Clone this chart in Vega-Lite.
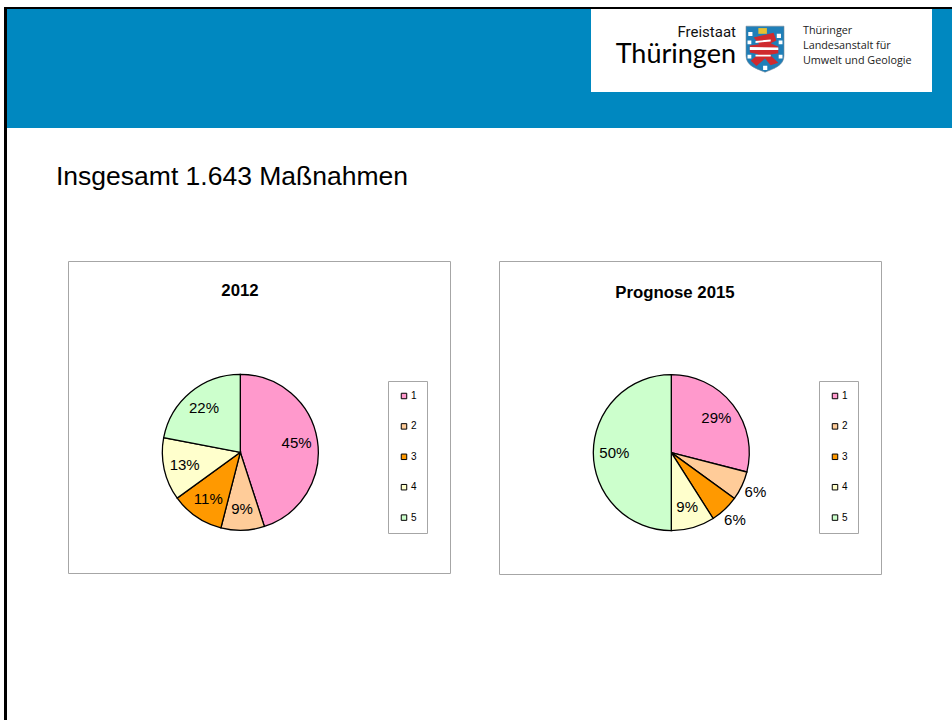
{
"$schema":"https://vega.github.io/schema/vega-lite/v6.json",
"padding":{"left":4,"top":7,"right":0,"bottom":0},
"background":"white",
"config":{"view":{"stroke":null},"font":"Liberation Sans","title":{"font":"Liberation Sans"},"concat":{"spacing":0}},
"datasets":{
 "a2012":[
  {"kategorie":1,"anteil":0.45,"lage":"innen"},
  {"kategorie":2,"anteil":0.09,"lage":"innen"},
  {"kategorie":3,"anteil":0.11,"lage":"innen"},
  {"kategorie":4,"anteil":0.13,"lage":"innen"},
  {"kategorie":5,"anteil":0.22,"lage":"innen"}],
 "a2015":[
  {"kategorie":1,"anteil":0.29,"lage":"innen"},
  {"kategorie":2,"anteil":0.06,"lage":"aussen"},
  {"kategorie":3,"anteil":0.06,"lage":"aussen"},
  {"kategorie":4,"anteil":0.09,"lage":"innen"},
  {"kategorie":5,"anteil":0.50,"lage":"innen"}]
},
"spacing":0,
"vconcat":[
 {"width":948,"height":2,"view":{"fill":"#000"},"data":{"values":[]},"mark":"rect","encoding":{}},
 {"spacing":0,"hconcat":[
  {"width":3,"height":711,"view":{"fill":"#000"},"data":{"values":[]},"mark":"rect","encoding":{}},
  {"spacing":0,"vconcat":[
   {"width":945,"height":119,"view":{"fill":"#0088C0"},
    "data":{"values":[{}]},
    "encoding":{},
    "resolve":{"scale":{"x":"shared","y":"shared"}},
    "layer":[
     {"mark":{"type":"rect","color":"#fff"},"encoding":{
       "x":{"datum":591,"type":"quantitative","axis":null,"scale":{"domain":[7,952],"nice":false,"zero":false}},
       "x2":{"datum":932},
       "y":{"datum":9,"type":"quantitative","axis":null,"scale":{"domain":[128,9],"nice":false,"zero":false}},
       "y2":{"datum":92}}},
     {"data":{"values":[{"t":"Freistaat"}]},"mark":{"type":"text","font":"Roboto","fontSize":15,"align":"right","baseline":"alphabetic","color":"#111"},"encoding":{"x":{"datum":736,"type":"quantitative"},"y":{"datum":37,"type":"quantitative"},"text":{"field":"t"}}},
     {"data":{"values":[{"t":"Thüringen"}]},"mark":{"type":"text","font":"Lato","fontSize":27,"align":"right","baseline":"alphabetic","color":"#000"},"encoding":{"x":{"datum":736,"type":"quantitative"},"y":{"datum":63,"type":"quantitative"},"text":{"field":"t"}}},
     {"data":{"values":[{"t":"Thüringer"}]},"mark":{"type":"text","font":"Open Sans","fontSize":10.8,"align":"left","baseline":"alphabetic","color":"#222"},"encoding":{"x":{"datum":803,"type":"quantitative"},"y":{"datum":34,"type":"quantitative"},"text":{"field":"t"}}},
     {"data":{"values":[{"t":"Landesanstalt für"}]},"mark":{"type":"text","font":"Open Sans","fontSize":10.8,"align":"left","baseline":"alphabetic","color":"#222"},"encoding":{"x":{"datum":803,"type":"quantitative"},"y":{"datum":49,"type":"quantitative"},"text":{"field":"t"}}},
     {"data":{"values":[{"t":"Umwelt und Geologie"}]},"mark":{"type":"text","font":"Open Sans","fontSize":10.8,"align":"left","baseline":"alphabetic","color":"#222"},"encoding":{"x":{"datum":803,"type":"quantitative"},"y":{"datum":64,"type":"quantitative"},"text":{"field":"t"}}},
     {"mark":{"type":"point","filled":true,"opacity":1,"size":1444,"color":"#1f7fb8","stroke":"#7a8a98","strokeWidth":0.6,"shape":"M-1,-1.2 L1,-1.2 L1,0.35 C1,0.9 0.4,1.05 0,1.22 C-0.4,1.05 -1,0.9 -1,0.35 Z"},"encoding":{"x":{"datum":765,"type":"quantitative"},"y":{"datum":49,"type":"quantitative"}}},
     {"mark":{"type":"point","filled":true,"opacity":1,"size":1444,"color":"#cf2a2e","shape":"M-0.6,-0.6 L0.45,-0.85 L0.6,-0.45 L0.3,-0.3 L0.7,-0.12 L0.7,0.22 L0.25,0.3 L0.7,0.72 L0.3,0.85 L0,0.5 L-0.45,0.9 L-0.75,0.62 L-0.35,0.28 L-0.8,0.18 L-0.8,-0.18 L-0.3,-0.25 Z"},"encoding":{"x":{"datum":765,"type":"quantitative"},"y":{"datum":49,"type":"quantitative"}}},
     {"mark":{"type":"point","filled":true,"opacity":1,"size":1444,"color":"#fff","shape":"M-0.8,-0.1 L0.7,-0.08 L0.7,0.05 L-0.8,0.05 Z M-0.5,-0.42 L0.3,-0.5 L0.3,-0.4 L-0.5,-0.32 Z M-0.5,0.3 L0.3,0.3 L0.3,0.4 L-0.5,0.4 Z M-0.88,-0.9 h0.22 v0.22 h-0.22 Z M0.62,-0.8 h0.22 v0.22 h-0.22 Z M-0.92,-0.45 h0.2 v0.2 h-0.2 Z M0.72,-0.45 h0.2 v0.2 h-0.2 Z M-0.92,0.3 h0.2 v0.2 h-0.2 Z M0.72,0.3 h0.2 v0.2 h-0.2 Z M-0.1,0.88 h0.22 v0.22 h-0.22 Z"},"encoding":{"x":{"datum":765,"type":"quantitative"},"y":{"datum":49,"type":"quantitative"}}},
     {"mark":{"type":"point","filled":true,"opacity":1,"size":1444,"color":"#e8c030","shape":"M-0.35,-1.1 L0.1,-1.1 L0.1,-0.8 L-0.35,-0.8 Z"},"encoding":{"x":{"datum":765,"type":"quantitative"},"y":{"datum":49,"type":"quantitative"}}}
    ]},
   {"width":945,"height":132,
    "title":{"text":"Insgesamt 1.643 Maßnahmen","anchor":"start","frame":"group","fontSize":26.5,"fontWeight":"normal","color":"#000","offset":-83,"dx":49,"baseline":"alphabetic"},
    "data":{"values":[]},"mark":"rect","encoding":{}},
   {"spacing":0,"hconcat":[
    {"width":60,"height":312,"data":{"values":[]},"mark":"rect","encoding":{}},
    {"spacing":47,"hconcat":[
     {"width":382,"height":312,"view":{"stroke":"#a6a6a6","fill":"#fff"},
      "title":{"text":"2012","anchor":"middle","fontSize":16.8,"fontWeight":"bold","color":"#000","offset":-52,"dx":-19,"baseline":"alphabetic"},
      "data":{"name":"a2012"},
      "layer":[
       {"mark":{"type":"arc","outerRadius":78,"stroke":"#000","strokeWidth":1.3},
        "encoding":{"x":{"value":172.3},"y":{"value":191.3},
         "theta":{"field":"anteil","type":"quantitative","stack":true,"scale":{"domain":[0,1]}},
         "order":{"field":"kategorie","type":"ordinal"},
         "color":{"field":"kategorie","type":"nominal","scale":{"domain":[1,2,3,4,5],"range":["#FF99CC","#FFCC99","#FF9900","#FFFFCC","#CCFFCC"]},
          "legend":{"title":null,"orient":"none","legendX":320,"legendY":120,"padding":10,"strokeColor":"#a6a6a6","fillColor":"#fff","symbolType":"square","symbolSize":30,"symbolStrokeColor":"#000","symbolStrokeWidth":1,"labelFontSize":10,"labelColor":"#000","labelOffset":2,"symbolOffset":1,"rowPadding":20.4,"symbolOpacity":1,"values":[1,2,3,4,5]}}}},
       {"mark":{"type":"text","radius":57,"fontSize":15,"color":"#000"},
        "encoding":{"x":{"value":172.3},"y":{"value":191.3},
         "theta":{"field":"anteil","type":"quantitative","stack":true,"scale":{"domain":[0,1]}},
         "order":{"field":"kategorie","type":"ordinal"},
         "detail":{"field":"kategorie","type":"nominal"},
         "text":{"field":"anteil","type":"quantitative","format":".0%"}}}
      ]},
     {"width":382,"height":313,"view":{"stroke":"#a6a6a6","fill":"#fff"},
      "title":{"text":"Prognose 2015","anchor":"middle","fontSize":16.8,"fontWeight":"bold","color":"#000","offset":-54,"dx":-15,"baseline":"alphabetic"},
      "data":{"name":"a2015"},
      "layer":[
       {"mark":{"type":"arc","outerRadius":78,"stroke":"#000","strokeWidth":1.3},
        "encoding":{"x":{"value":172.3},"y":{"value":191.6},
         "theta":{"field":"anteil","type":"quantitative","stack":true,"scale":{"domain":[0,1]}},
         "order":{"field":"kategorie","type":"ordinal"},
         "color":{"field":"kategorie","type":"nominal","scale":{"domain":[1,2,3,4,5],"range":["#FF99CC","#FFCC99","#FF9900","#FFFFCC","#CCFFCC"]},
          "legend":{"title":null,"orient":"none","legendX":320,"legendY":120,"padding":10,"strokeColor":"#a6a6a6","fillColor":"#fff","symbolType":"square","symbolSize":30,"symbolStrokeColor":"#000","symbolStrokeWidth":1,"labelFontSize":10,"labelColor":"#000","labelOffset":2,"symbolOffset":1,"rowPadding":20.4,"symbolOpacity":1,"values":[1,2,3,4,5]}}}},
       {"mark":{"type":"text","radius":57,"fontSize":15,"color":"#000"},
        "encoding":{"x":{"value":172.3},"y":{"value":191.6},
         "theta":{"field":"anteil","type":"quantitative","stack":true,"scale":{"domain":[0,1]}},
         "order":{"field":"kategorie","type":"ordinal"},
         "detail":{"field":"kategorie","type":"nominal"},
         "text":{"condition":{"test":"datum.lage === 'aussen'","value":""},"field":"anteil","type":"quantitative","format":".0%"}}},
       {"mark":{"type":"text","radius":93,"fontSize":15,"color":"#000"},
        "encoding":{"x":{"value":172.3},"y":{"value":191.6},
         "theta":{"field":"anteil","type":"quantitative","stack":true,"scale":{"domain":[0,1]}},
         "order":{"field":"kategorie","type":"ordinal"},
         "detail":{"field":"kategorie","type":"nominal"},
         "text":{"condition":{"test":"datum.lage === 'innen'","value":""},"field":"anteil","type":"quantitative","format":".0%"}}}
      ]}
    ],"resolve":{"legend":{"color":"independent"}}}
   ]}
  ]}
 ]}
]}
